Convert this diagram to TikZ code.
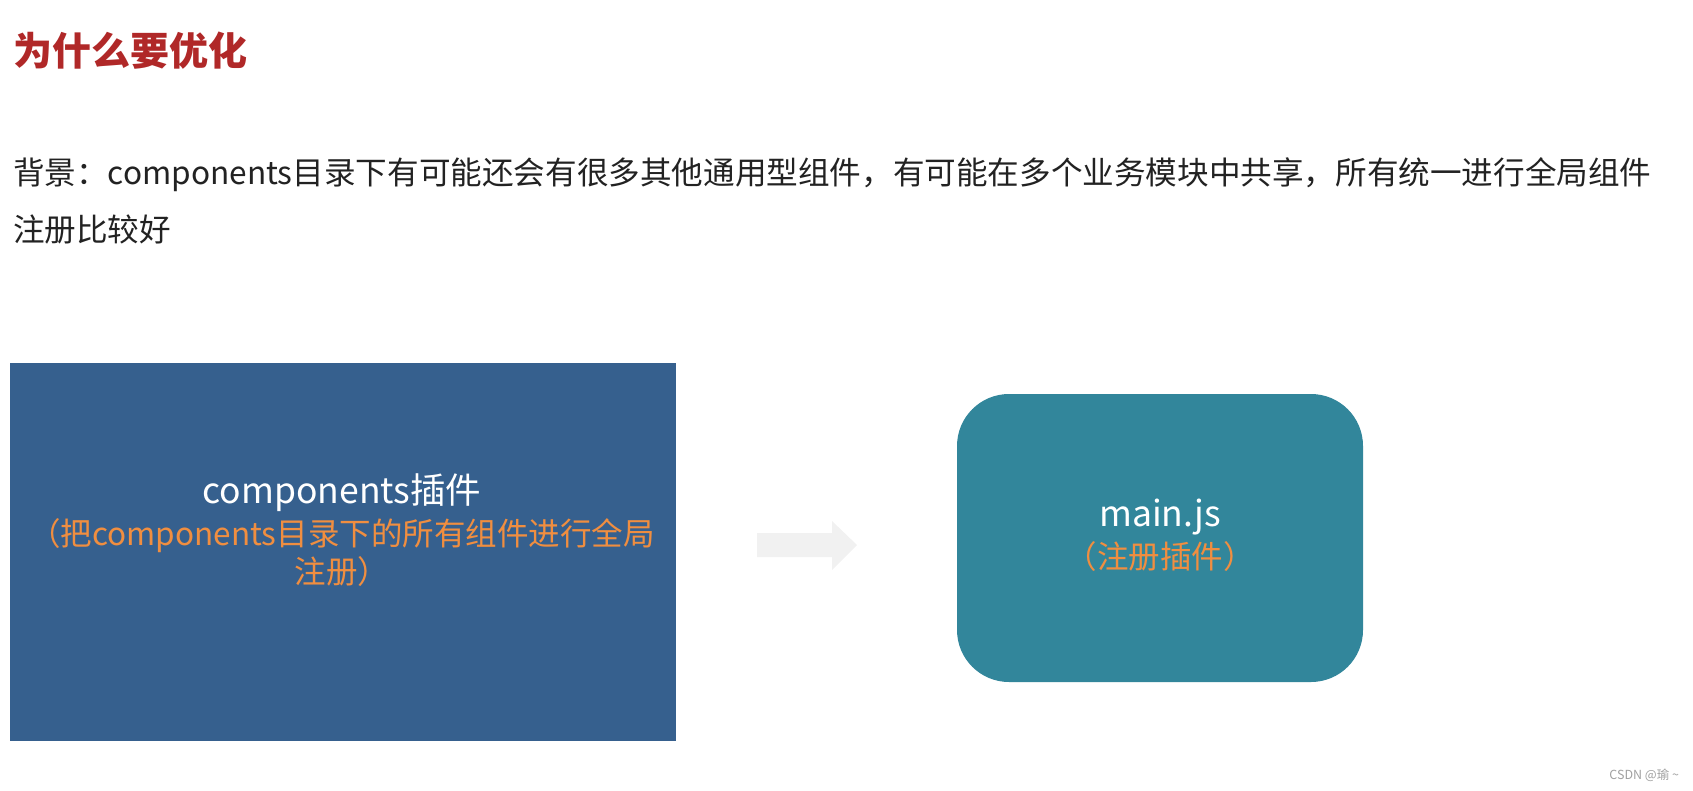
\documentclass[tikz,border=0pt]{standalone}
\usepackage{fontspec}
\setmainfont{Noto Sans CJK SC}
\definecolor{titlered}{RGB}{176,40,40}
\definecolor{bodytext}{RGB}{34,34,34}
\definecolor{boxblue}{RGB}{54,96,142}
\definecolor{boxteal}{RGB}{50,134,155}
\definecolor{labelorange}{RGB}{240,142,64}
\definecolor{arrowgray}{RGB}{241,241,241}
\definecolor{wmgray}{RGB}{160,160,160}
\tikzset{
  plain/.style={inner sep=0pt, outer sep=0pt},
  bodyline/.style={plain, anchor=west, text=bodytext, font=\fontsize{31.6}{36}\selectfont},
  whitelabel/.style={plain, text=white, font=\fontsize{35.5}{40}\selectfont},
  orangelabel/.style={plain, text=labelorange, font=\fontsize{31.5}{36}\selectfont},
}
\begin{document}
\begin{tikzpicture}[x=1pt,y=-1pt]
\useasboundingbox (0,0) rectangle (1693,790);
\node[plain, anchor=west, text=titlered, font=\fontsize{39}{44}\selectfont\bfseries] (title) at (13,51) {为什么要优化};
\node[bodyline] (body1) at (13,175) {背景：components目录下有可能还会有很多其他通用型组件，有可能在多个业务模块中共享，所有统一进行全局组件};
\node[bodyline] (body2) at (13,230) {注册比较好};
% left box
\node[plain, fill=boxblue, minimum width=666pt, minimum height=378pt] (comp) at (343,552) {};
\node[whitelabel] (compname) at (342,493) {components插件};
\node[orangelabel] (compnote1) at (342,536) {（把components目录下的所有组件进行全局};
\node[orangelabel] (compnote2) at (342,572) {注册）};
% arrow
\fill[arrowgray] (757,533) -- (832,533) -- (832,521) -- (857,545) -- (832,570) -- (832,557) -- (757,557) -- cycle;
% right box
\node[plain, fill=boxteal, rounded corners=52pt, minimum width=406pt, minimum height=288pt] (mainjs) at (1160,538) {};
\node[whitelabel] (mainname) at (1160,517) {main.js};
\node[orangelabel] (mainnote) at (1160,557) {（注册插件）};
% watermark
\node[plain, anchor=east, text=wmgray, font=\fontsize{12.5}{14}\selectfont] (wm) at (1679,775) {CSDN @瑜 \textasciitilde};
\end{tikzpicture}
\end{document}
